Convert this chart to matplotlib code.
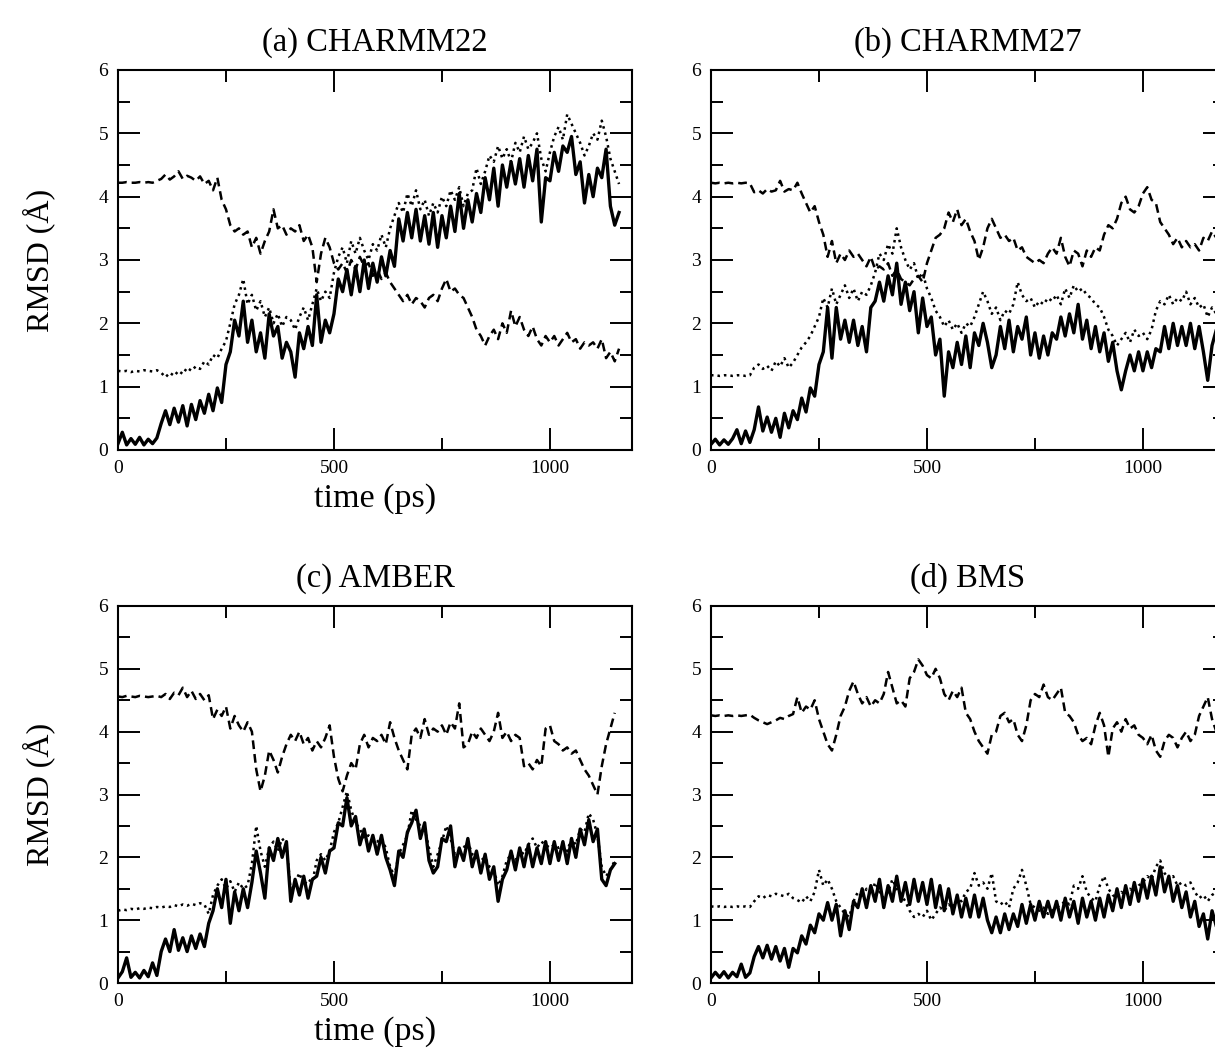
import numpy as np
import matplotlib
matplotlib.use("Agg")
import matplotlib.pyplot as plt
from matplotlib.ticker import MultipleLocator

plt.rcParams['font.family'] = ['Liberation Serif', 'DejaVu Serif']

TITLES = ["(a) CHARMM22", "(b) CHARMM27", "(c) AMBER", "(d) BMS"]
DT = 10  # ps between samples

# ---- (a) CHARMM22 ----
A_SOLID = [0.10, 0.28, 0.08, 0.18, 0.09, 0.20, 0.08, 0.17, 0.10, 0.19,
           0.42, 0.62, 0.40, 0.66, 0.44, 0.70, 0.38, 0.72, 0.48, 0.78,
           0.58, 0.88, 0.62, 0.98, 0.75, 1.35, 1.55, 2.05, 1.80, 2.35,
           1.70, 2.05, 1.55, 1.85, 1.45, 2.15, 1.80, 1.95, 1.45, 1.70,
           1.55, 1.15, 1.85, 1.60, 1.95, 1.65, 2.45, 1.70, 2.05, 1.85,
           2.15, 2.70, 2.50, 2.85, 2.45, 2.90, 2.50, 3.00, 2.55, 2.95,
           2.65, 3.05, 2.75, 3.15, 2.90, 3.65, 3.30, 3.75, 3.35, 3.80,
           3.30, 3.70, 3.25, 3.75, 3.20, 3.70, 3.35, 3.85, 3.45, 4.05,
           3.50, 3.95, 3.60, 4.05, 3.75, 4.30, 3.95, 4.45, 3.85, 4.50,
           4.15, 4.55, 4.20, 4.60, 4.15, 4.65, 4.25, 4.75, 3.60, 4.30,
           4.25, 4.70, 4.40, 4.80, 4.70, 4.95, 4.35, 4.55, 3.90, 4.35,
           4.00, 4.45, 4.30, 4.75, 3.85, 3.55, 3.75]
A_DOT = [1.25, 1.24, 1.25, 1.23, 1.25, 1.24, 1.26, 1.25, 1.24, 1.26,
         1.22, 1.15, 1.22, 1.17, 1.25, 1.20, 1.30, 1.25, 1.32, 1.28,
         1.40, 1.35, 1.50, 1.45, 1.60, 1.72, 2.00, 2.30, 2.45, 2.70,
         2.30, 2.45, 2.20, 2.35, 2.10, 2.25, 2.00, 2.15, 1.95, 2.10,
         2.05, 1.90, 2.10, 2.25, 2.05, 2.30, 2.55, 2.35, 2.50, 2.40,
         2.80, 3.05, 3.20, 2.95, 3.30, 3.10, 3.35, 3.15, 3.00, 3.25,
         3.15, 3.40, 3.20, 3.50, 3.70, 3.90, 3.75, 4.05, 3.85, 4.10,
         3.80, 3.95, 3.70, 3.90, 3.75, 4.00, 3.85, 4.10, 3.95, 4.15,
         3.85, 4.05, 4.10, 4.45, 4.20, 4.40, 4.65, 4.55, 4.80, 4.60,
         4.75, 4.55, 4.85, 4.70, 4.95, 4.75, 4.85, 5.00, 4.60, 4.40,
         4.70, 4.95, 5.10, 4.90, 5.30, 5.15, 5.00, 4.85, 4.65, 4.80,
         5.00, 4.90, 5.20, 4.95, 4.60, 4.40, 4.20]
A_DASH = [4.22, 4.22, 4.23, 4.22, 4.22, 4.23, 4.22, 4.23, 4.22, 4.25,
          4.28, 4.35, 4.27, 4.32, 4.40, 4.28, 4.33, 4.30, 4.25, 4.32,
          4.20, 4.25, 4.10, 4.30, 3.95, 3.80, 3.55, 3.45, 3.50, 3.40,
          3.45, 3.20, 3.35, 3.10, 3.30, 3.45, 3.80, 3.50, 3.55, 3.40,
          3.50, 3.45, 3.55, 3.30, 3.40, 3.20, 2.65, 3.10, 3.35, 3.20,
          2.95, 2.85, 2.95, 2.80, 3.00, 2.85, 3.05, 2.90, 2.95, 2.75,
          2.85, 2.70, 2.80, 2.65, 2.55, 2.45, 2.35, 2.45, 2.30, 2.40,
          2.35, 2.25, 2.40, 2.45, 2.35, 2.55, 2.70, 2.50, 2.55, 2.45,
          2.40, 2.25, 2.10, 1.90, 1.80, 1.65, 1.80, 1.90, 1.75, 2.00,
          1.85, 2.20, 1.95, 2.10, 1.90, 1.80, 1.95, 1.75, 1.65, 1.80,
          1.70, 1.80, 1.65, 1.75, 1.85, 1.70, 1.75, 1.60, 1.70, 1.65,
          1.70, 1.60, 1.75, 1.45, 1.55, 1.40, 1.60]

# ---- (b) CHARMM27 ----
B_SOLID = [0.09, 0.17, 0.08, 0.16, 0.09, 0.18, 0.32, 0.10, 0.30, 0.12,
           0.32, 0.68, 0.30, 0.52, 0.28, 0.50, 0.20, 0.58, 0.35, 0.62,
           0.48, 0.82, 0.60, 0.98, 0.85, 1.35, 1.55, 2.25, 1.45, 2.25,
           1.75, 2.05, 1.70, 2.05, 1.65, 1.95, 1.55, 2.25, 2.35, 2.65,
           2.35, 2.75, 2.45, 2.95, 2.30, 2.65, 2.20, 2.50, 1.85, 2.40,
           1.95, 2.10, 1.50, 1.75, 0.85, 1.55, 1.30, 1.70, 1.35, 1.80,
           1.30, 1.85, 1.65, 2.00, 1.70, 1.30, 1.50, 1.95, 1.60, 2.05,
           1.55, 1.95, 1.75, 2.10, 1.50, 1.85, 1.45, 1.80, 1.50, 1.85,
           1.75, 2.10, 1.80, 2.15, 1.85, 2.30, 1.75, 2.05, 1.60, 1.95,
           1.55, 1.85, 1.40, 1.70, 1.25, 0.95, 1.25, 1.50, 1.25, 1.55,
           1.25, 1.55, 1.30, 1.60, 1.55, 1.95, 1.60, 2.00, 1.65, 1.95,
           1.65, 2.00, 1.60, 1.95, 1.55, 1.10, 1.65, 1.90, 1.60]
B_DOT = [1.18, 1.18, 1.17, 1.18, 1.18, 1.17, 1.18, 1.18, 1.17, 1.18,
         1.30, 1.35, 1.28, 1.33, 1.25, 1.40, 1.32, 1.45, 1.30, 1.38,
         1.50, 1.62, 1.70, 1.80, 1.95, 2.10, 2.40, 2.25, 2.55, 2.30,
         2.45, 2.60, 2.40, 2.55, 2.35, 2.50, 2.45, 2.60, 2.80, 3.10,
         3.00, 3.25, 3.10, 3.50, 3.20, 3.00, 2.85, 2.95, 2.70, 2.80,
         2.55, 2.40, 2.20, 2.10, 1.95, 2.05, 1.90, 2.00, 1.85, 2.00,
         1.95, 2.10, 2.30, 2.50, 2.35, 2.15, 2.25, 2.05, 2.20, 2.15,
         2.30, 2.65, 2.45, 2.35, 2.40, 2.25, 2.35, 2.30, 2.40, 2.35,
         2.45, 2.30, 2.55, 2.40, 2.60, 2.50, 2.55, 2.45, 2.40, 2.30,
         2.25, 2.10, 1.90, 1.80, 1.65, 1.75, 1.85, 1.70, 1.90, 1.80,
         1.85, 1.75, 1.90, 2.20, 2.35, 2.30, 2.45, 2.30, 2.40, 2.35,
         2.50, 2.30, 2.40, 2.25, 2.30, 2.10, 2.25, 2.15, 2.20]
B_DASH = [4.22, 4.21, 4.22, 4.21, 4.22, 4.21, 4.22, 4.21, 4.22, 4.21,
          4.07, 4.10, 4.05, 4.12, 4.08, 4.10, 4.25, 4.08, 4.12, 4.10,
          4.22, 4.05, 3.90, 3.75, 3.85, 3.60, 3.40, 3.05, 3.30, 2.95,
          3.10, 3.00, 3.15, 3.05, 3.10, 3.00, 2.90, 3.05, 2.85, 2.90,
          2.85, 2.95, 2.75, 2.85, 2.70, 2.65, 2.60, 2.70, 2.75, 2.65,
          2.95, 3.15, 3.35, 3.40, 3.50, 3.75, 3.60, 3.80, 3.55, 3.65,
          3.45, 3.30, 3.00, 3.20, 3.50, 3.65, 3.50, 3.35, 3.40, 3.30,
          3.35, 3.15, 3.20, 3.05, 3.00, 2.95, 3.00, 2.95, 3.10, 3.20,
          3.10, 3.35, 3.05, 2.90, 3.15, 3.10, 2.90, 3.15, 3.05, 3.20,
          3.15, 3.40, 3.55, 3.50, 3.65, 3.90, 4.00, 3.80, 3.75, 3.85,
          4.05, 4.15, 3.95, 3.90, 3.60, 3.50, 3.40, 3.25, 3.35, 3.20,
          3.30, 3.20, 3.25, 3.15, 3.35, 3.30, 3.45, 3.35, 3.40]

# ---- (c) AMBER ----
C_SOLID = [0.08, 0.18, 0.40, 0.09, 0.17, 0.08, 0.20, 0.10, 0.32, 0.12,
           0.50, 0.70, 0.50, 0.85, 0.52, 0.72, 0.50, 0.75, 0.55, 0.78,
           0.58, 0.95, 1.15, 1.50, 1.20, 1.65, 0.95, 1.45, 1.15, 1.50,
           1.20, 1.60, 2.10, 1.75, 1.35, 2.15, 1.95, 2.30, 2.00, 2.25,
           1.30, 1.65, 1.40, 1.70, 1.35, 1.65, 1.70, 2.00, 1.75, 2.10,
           2.15, 2.55, 2.50, 2.95, 2.50, 2.65, 2.20, 2.45, 2.10, 2.35,
           2.05, 2.35, 2.00, 1.80, 1.55, 2.10, 2.00, 2.40, 2.55, 2.75,
           2.30, 2.55, 1.95, 1.75, 1.85, 2.30, 2.25, 2.50, 1.85, 2.15,
           1.95, 2.30, 1.85, 2.10, 1.75, 2.05, 1.65, 1.85, 1.30, 1.65,
           1.80, 2.10, 1.80, 2.15, 1.85, 2.20, 1.85, 2.15, 1.90, 2.25,
           1.90, 2.25, 1.95, 2.25, 1.90, 2.30, 2.00, 2.45, 2.20, 2.60,
           2.25, 2.45, 1.65, 1.55, 1.80, 1.90]
C_DOT = [1.15, 1.17, 1.16, 1.18, 1.17, 1.19, 1.18, 1.20, 1.19, 1.21,
         1.20, 1.22, 1.21, 1.24, 1.22, 1.25, 1.23, 1.26, 1.24, 1.27,
         1.25, 1.10, 1.40, 1.55, 1.65, 1.50, 1.62, 1.45, 1.60, 1.50,
         1.55, 1.90, 2.50, 2.10, 1.85, 2.15, 2.25, 2.10, 2.30, 2.20,
         1.45, 1.60, 1.75, 1.55, 1.65, 1.60, 1.95, 2.05, 1.95, 2.10,
         2.40, 2.55, 2.80, 3.05, 2.75, 2.55, 2.45, 2.30, 2.35, 2.25,
         2.25, 2.30, 2.15, 1.85, 1.70, 2.05, 2.20, 2.35, 2.75, 2.60,
         2.50, 2.45, 2.15, 1.85, 2.05, 2.25, 2.50, 2.30, 2.05, 2.10,
         2.15, 2.25, 2.05, 2.00, 1.95, 2.00, 1.85, 1.80, 1.55, 1.70,
         1.95, 2.05, 1.95, 2.10, 2.05, 2.20, 2.30, 2.15, 2.25, 2.20,
         2.15, 2.20, 2.15, 2.20, 2.10, 2.30, 2.20, 2.45, 2.40, 2.70,
         2.60, 2.35, 1.85, 1.70, 1.80, 1.95]
C_DASH = [4.56, 4.55, 4.57, 4.56, 4.55, 4.57, 4.56, 4.55, 4.56, 4.57,
          4.55, 4.60, 4.52, 4.62, 4.58, 4.70, 4.55, 4.65, 4.52, 4.60,
          4.50, 4.58, 4.20, 4.35, 4.25, 4.40, 4.05, 4.25, 4.10, 4.00,
          4.15, 4.00, 3.40, 3.05, 3.30, 3.70, 3.55, 3.35, 3.60, 3.80,
          3.95, 3.85, 4.00, 3.80, 3.90, 3.70, 3.85, 3.75, 3.90, 4.10,
          3.60, 3.25, 3.05, 3.30, 3.50, 3.40, 3.80, 3.95, 3.75, 3.90,
          3.85, 3.95, 3.80, 4.15, 3.90, 3.70, 3.55, 3.40, 3.95, 4.05,
          3.90, 4.20, 3.95, 4.05, 4.00, 4.10, 3.95, 4.15, 4.05, 4.45,
          3.75, 3.80, 4.00, 3.90, 4.05, 3.95, 3.85, 4.00, 4.30, 3.90,
          4.00, 3.85, 3.95, 3.90, 3.45, 3.50, 3.40, 3.55, 3.45, 4.05,
          4.10, 3.85, 3.80, 3.70, 3.75, 3.65, 3.70, 3.55, 3.40, 3.30,
          3.15, 3.00, 3.45, 3.80, 4.05, 4.30]

# ---- (d) BMS ----
D_SOLID = [0.08, 0.17, 0.09, 0.18, 0.08, 0.17, 0.10, 0.30, 0.09, 0.16,
           0.42, 0.58, 0.40, 0.60, 0.38, 0.58, 0.35, 0.55, 0.25, 0.55,
           0.48, 0.75, 0.62, 0.92, 0.80, 1.10, 1.00, 1.28, 1.00, 1.25,
           0.75, 1.15, 0.85, 1.30, 1.20, 1.50, 1.20, 1.55, 1.30, 1.65,
           1.20, 1.55, 1.30, 1.70, 1.30, 1.60, 1.25, 1.65, 1.30, 1.60,
           1.25, 1.65, 1.20, 1.55, 1.15, 1.50, 1.10, 1.40, 1.05, 1.35,
           1.05, 1.40, 1.05, 1.35, 1.00, 0.80, 1.05, 0.80, 1.10, 0.85,
           1.10, 0.90, 1.25, 0.95, 1.25, 1.00, 1.30, 1.05, 1.30, 1.05,
           1.30, 1.00, 1.35, 1.05, 1.30, 0.95, 1.35, 1.05, 1.30, 1.00,
           1.35, 1.05, 1.40, 1.15, 1.50, 1.20, 1.55, 1.25, 1.60, 1.30,
           1.65, 1.35, 1.70, 1.40, 1.85, 1.45, 1.70, 1.30, 1.55, 1.20,
           1.45, 1.05, 1.30, 0.90, 1.10, 0.70, 1.15, 0.90, 1.15]
D_DOT = [1.22, 1.21, 1.22, 1.21, 1.22, 1.21, 1.22, 1.21, 1.22, 1.21,
         1.30, 1.38, 1.35, 1.40, 1.38, 1.42, 1.40, 1.38, 1.42, 1.35,
         1.32, 1.28, 1.38, 1.30, 1.45, 1.80, 1.55, 1.65, 1.50, 1.30,
         1.20, 1.10, 1.05, 1.30, 1.45, 1.35, 1.50, 1.40, 1.60, 1.45,
         1.35, 1.45, 1.65, 1.50, 1.40, 1.30, 1.15, 1.05, 1.10, 1.05,
         1.15, 1.00, 1.10, 1.20, 1.15, 1.25, 1.20, 1.35, 1.30, 1.45,
         1.50, 1.75, 1.55, 1.60, 1.50, 1.75, 1.30, 1.25, 1.30, 1.20,
         1.50, 1.60, 1.80, 1.55, 1.25, 1.20, 1.15, 1.20, 1.10, 1.15,
         1.20, 1.25, 1.30, 1.25, 1.55, 1.50, 1.70, 1.45, 1.35, 1.30,
         1.55, 1.70, 1.50, 1.40, 1.35, 1.45, 1.40, 1.50, 1.45, 1.55,
         1.60, 1.70, 1.65, 1.85, 1.95, 1.75, 1.65, 1.70, 1.55, 1.60,
         1.55, 1.60, 1.45, 1.35, 1.40, 1.30, 1.40, 1.45, 1.50]
D_DASH = [4.26, 4.25, 4.26, 4.25, 4.26, 4.25, 4.26, 4.25, 4.26, 4.27,
          4.22, 4.18, 4.15, 4.12, 4.15, 4.18, 4.22, 4.20, 4.25, 4.28,
          4.55, 4.30, 4.40, 4.35, 4.50, 4.20, 4.00, 3.80, 3.70, 3.95,
          4.25, 4.40, 4.65, 4.80, 4.60, 4.45, 4.55, 4.40, 4.50, 4.45,
          4.60, 4.95, 4.70, 4.45, 4.50, 4.40, 4.85, 4.95, 5.15, 5.05,
          4.90, 4.85, 5.00, 4.85, 4.60, 4.50, 4.65, 4.55, 4.70, 4.30,
          4.20, 4.00, 3.85, 3.75, 3.65, 3.95, 4.00, 4.25, 4.30, 4.15,
          4.20, 3.95, 3.85, 4.10, 4.50, 4.60, 4.55, 4.75, 4.55, 4.50,
          4.60, 4.70, 4.30, 4.25, 4.15, 3.95, 3.85, 3.90, 3.80, 4.10,
          4.30, 4.10, 3.60, 4.05, 4.15, 4.00, 4.20, 4.05, 4.10, 3.95,
          3.90, 3.80, 3.95, 3.70, 3.60, 3.85, 3.95, 3.90, 3.75, 3.90,
          4.00, 3.85, 3.95, 4.25, 4.40, 4.55, 4.20, 4.00, 4.10]

PANELS = [(A_SOLID, A_DOT, A_DASH), (B_SOLID, B_DOT, B_DASH),
          (C_SOLID, C_DOT, C_DASH), (D_SOLID, D_DOT, D_DASH)]

W, H = 1215, 1052
fig = plt.figure(figsize=(W / 100, H / 100), dpi=100)

# axes boxes in pixels: left, top, right, bottom
boxes = [(118, 70, 632, 450), (711, 70, 1225, 450),
         (118, 606, 632, 983), (711, 606, 1225, 983)]

for i, (box, title, series) in enumerate(zip(boxes, TITLES, PANELS)):
    l, t, r, b = box
    ax = fig.add_axes([l / W, 1 - b / H, (r - l) / W, (b - t) / H])
    solid, dot, dash = series
    ts = np.arange(len(solid)) * DT
    ax.plot(ts, dash, color='black', lw=1.8, ls=(0, (3.5, 2)))
    ax.plot(ts, dot, color='black', lw=1.8, ls=(0, (1, 1.6)))
    ax.plot(ts, solid, color='black', lw=2.4, ls='-')
    ax.set_xlim(0, 1190)
    ax.set_ylim(0, 6)
    ax.xaxis.set_major_locator(MultipleLocator(500))
    ax.xaxis.set_minor_locator(MultipleLocator(250))
    ax.yaxis.set_major_locator(MultipleLocator(1))
    ax.yaxis.set_minor_locator(MultipleLocator(0.5))
    ax.tick_params(which='both', direction='in', top=True, right=True,
                   width=1.4, labelsize=14, pad=7)
    ax.tick_params(which='major', length=16)
    ax.tick_params(which='minor', length=8.5)
    for sp in ax.spines.values():
        sp.set_linewidth(1.5)
    ax.set_title(title, fontsize=23.5, pad=14)
    if i % 2 == 0:
        ax.set_ylabel("RMSD (Å)", fontsize=23, labelpad=31)
        ax.set_xlabel("time (ps)", fontsize=24.5, labelpad=5)

fig.savefig("out.png", dpi=100)
